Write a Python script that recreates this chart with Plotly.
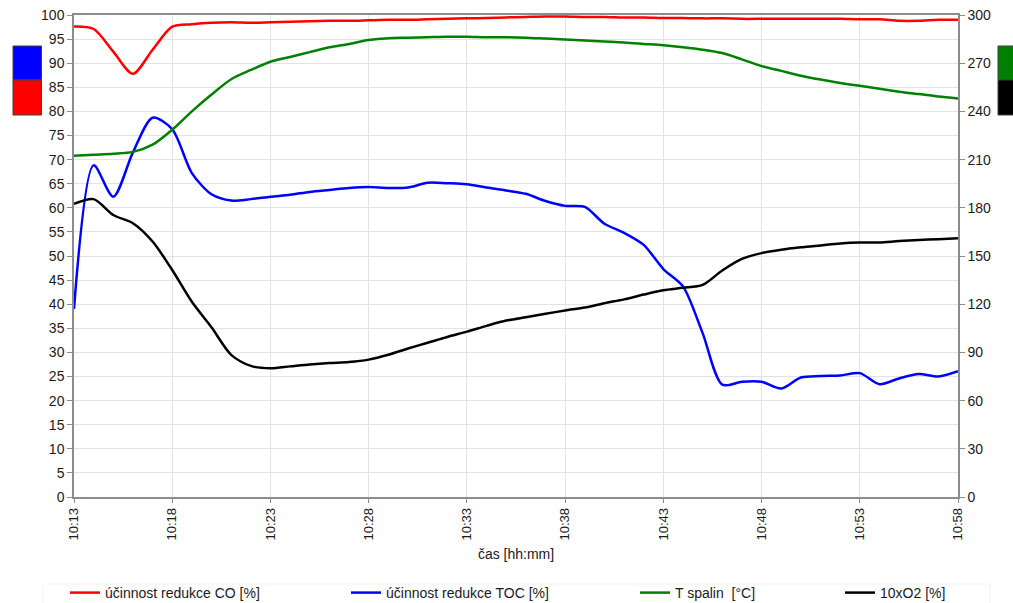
import plotly.graph_objects as go

# time axis (hh:mm), one sample per minute
times = ["10:13","10:14","10:15","10:16","10:17","10:18","10:19","10:20","10:21","10:22",
         "10:23","10:24","10:25","10:26","10:27","10:28","10:29","10:30","10:31","10:32",
         "10:33","10:34","10:35","10:36","10:37","10:38","10:39","10:40","10:41","10:42",
         "10:43","10:44","10:45","10:46","10:47","10:48","10:49","10:50","10:51","10:52",
         "10:53","10:54","10:55","10:56","10:57","10:58"]
tick_labels = ["10:13","10:18","10:23","10:28","10:33","10:38","10:43","10:48","10:53","10:58"]

# účinnost redukce CO [%] (left axis)
co_eff = [97.6, 97.1, 92.4, 87.8, 92.8, 97.6, 98.1, 98.4, 98.5, 98.4,
          98.5, 98.6, 98.7, 98.8, 98.8, 98.9, 99.0, 99.0, 99.1, 99.2,
          99.3, 99.4, 99.5, 99.6, 99.7, 99.7, 99.6, 99.6, 99.5, 99.5,
          99.4, 99.4, 99.3, 99.3, 99.2, 99.2, 99.2, 99.2, 99.2, 99.2,
          99.1, 99.1, 98.8, 98.8, 99.0, 99.0]

# účinnost redukce TOC [%] (left axis)
toc_eff = [39.0, 68.8, 62.3, 71.5, 78.7, 76.3, 67.2, 62.8, 61.5, 61.8,
           62.3, 62.7, 63.3, 63.7, 64.1, 64.3, 64.1, 64.2, 65.2, 65.1,
           64.9, 64.2, 63.6, 62.9, 61.4, 60.4, 60.2, 56.7, 54.8, 52.3,
           47.3, 43.7, 34.0, 23.3, 23.9, 23.9, 22.5, 24.8, 25.1, 25.2,
           25.7, 23.4, 24.6, 25.5, 25.0, 26.1]

# T spalin [°C] (right axis)
t_spalin = [212.4, 213.0, 213.6, 214.8, 219.3, 228.6, 240.0, 250.5, 260.0, 265.8,
            270.9, 273.9, 276.9, 279.9, 282.0, 284.4, 285.6, 285.9, 286.2, 286.5,
            286.5, 286.2, 286.2, 285.9, 285.3, 284.7, 284.1, 283.5, 282.9, 282.0,
            281.1, 279.9, 278.4, 276.3, 272.4, 268.2, 265.2, 262.2, 259.8, 257.7,
            255.9, 254.1, 252.3, 250.8, 249.3, 248.1]

# 10xO2 [%] (right axis)
o2_x10 = [182.4, 185.4, 175.5, 170.4, 159.0, 141.3, 121.5, 105.6, 88.5, 81.6,
          80.1, 81.3, 82.5, 83.4, 84.0, 85.5, 88.5, 92.4, 96.0, 99.6,
          102.9, 106.5, 109.8, 111.9, 114.0, 116.1, 117.9, 120.6, 123.0, 126.0,
          128.7, 130.2, 132.0, 141.0, 148.2, 151.8, 153.9, 155.4, 156.6, 157.8,
          158.4, 158.4, 159.3, 159.9, 160.5, 161.1]

names = ["účinnost redukce CO [%]", "účinnost redukce TOC [%]", "T spalin  [°C]", "10xO2 [%]"]
colors = ["#ff0000", "#0000ff", "#008000", "#000000"]

FONT = "Liberation Sans, Arial, sans-serif"
TXT = "#1a1a1a"
GRID = "#e3e3e3"
AXIS = "#8c8c8c"

fig = go.Figure()
series = [(co_eff, "y"), (toc_eff, "y"), (t_spalin, "y2"), (o2_x10, "y2")]
legends = ["legend", "legend2", "legend3", "legend4"]
for (vals, yax), name, col, lg in zip(series, names, colors, legends):
    fig.add_trace(go.Scatter(
        x=times, y=vals, name=name, yaxis=yax, mode="lines",
        line=dict(color=col, width=2.5, shape="spline", smoothing=0.8),
        legend=lg, hoverinfo="skip"))

FW, FH = 1013, 603
# plot area in px: x 74..958, y 15..497
L, R, T, B = 74, 958, 15, 497
W, H = R - L, B - T
def px(x):
    return (x - L) / W
def py(y):
    return (B - y) / H

leg_common = dict(orientation="h", yanchor="middle", y=py(593), xanchor="left",
                  font=dict(family=FONT, size=14, color=TXT), bgcolor="rgba(0,0,0,0)",
                  borderwidth=0, itemwidth=30)
fig.update_layout(
    legend=dict(x=px(65), **leg_common),
    legend2=dict(x=px(346), **leg_common),
    legend3=dict(x=px(635), **leg_common),
    legend4=dict(x=px(840), **leg_common),
)

fig.update_layout(
    width=FW, height=FH,
    margin=dict(l=L, r=FW - R, t=T, b=FH - B, autoexpand=False),
    paper_bgcolor="white", plot_bgcolor="white",
    font=dict(family=FONT, size=14, color=TXT),
    showlegend=True,
    xaxis=dict(type="category", range=[0, len(times) - 1], automargin=False,
               tickmode="array", tickvals=tick_labels, ticktext=tick_labels,
               tickangle=-90, tickfont=dict(size=13, family=FONT, color=TXT),
               showgrid=True, gridcolor=GRID, gridwidth=1,
               showline=True, linecolor=AXIS, linewidth=1.5, mirror=True,
               ticks="outside", ticklen=4, tickcolor=AXIS,
               title=dict(text="čas [hh:mm]", font=dict(size=14, family=FONT, color=TXT), standoff=10),
               zeroline=False),
    yaxis=dict(range=[0, 100], dtick=5, tick0=0, automargin=False, ticklabeloverflow="allow",
               showgrid=True, gridcolor=GRID, gridwidth=1,
               showline=True, linecolor=AXIS, linewidth=1.5,
               ticks="outside", ticklen=5, tickcolor=AXIS,
               tickfont=dict(size=14, family=FONT, color=TXT), zeroline=False),
    yaxis2=dict(range=[0, 300], dtick=30, tick0=0, overlaying="y", side="right",
                automargin=False, ticklabeloverflow="allow",
                showgrid=False, showline=True, linecolor=AXIS, linewidth=1.5,
                ticks="outside", ticklen=5, tickcolor=AXIS,
                tickfont=dict(size=14, family=FONT, color=TXT), zeroline=False),
)

# axis-colour key boxes beside the two value axes
box_line = dict(color="#404040", width=1)
shapes = [
    dict(type="rect", xref="paper", yref="paper", x0=px(13), x1=px(41.5), y0=py(80), y1=py(46),
         fillcolor="#0000ff", line=box_line, layer="above"),
    dict(type="rect", xref="paper", yref="paper", x0=px(13), x1=px(41.5), y0=py(115), y1=py(80),
         fillcolor="#ff0000", line=box_line, layer="above"),
    dict(type="rect", xref="paper", yref="paper", x0=px(998), x1=px(1025), y0=py(80), y1=py(46),
         fillcolor="#008000", line=box_line, layer="above"),
    dict(type="rect", xref="paper", yref="paper", x0=px(998), x1=px(1025), y0=py(115), y1=py(80),
         fillcolor="#000000", line=box_line, layer="above"),
    # faint legend frame
    dict(type="rect", xref="paper", yref="paper", x0=px(43), x1=px(990), y0=py(640), y1=py(584),
         fillcolor="rgba(0,0,0,0)", line=dict(color="#f2f2f2", width=1), layer="below"),
]
fig.update_layout(shapes=shapes)

fig.write_html("out.html", config={"displayModeBar": False},
               post_script="document.body.style.margin='0';document.body.style.overflow='hidden';")
